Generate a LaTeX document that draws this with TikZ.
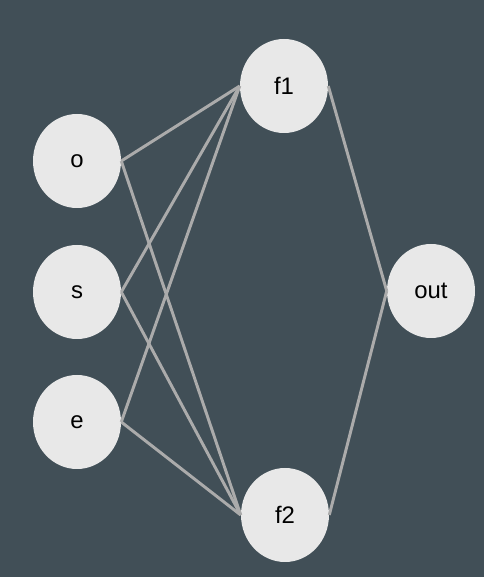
\documentclass[tikz,border=0pt]{standalone}
\usepackage{fontspec}
\setmainfont{Liberation Sans}
\usepackage{tikz}
\usetikzlibrary{shapes.geometric}
\usepackage{xcolor}
\definecolor{slate}{HTML}{414F57}
\definecolor{nodegray}{HTML}{E8E8E8}
\definecolor{edgegray}{HTML}{ABABAB}

\begin{document}
\begin{tikzpicture}[
    unit/.style={ellipse,fill=nodegray,draw=none,minimum width=2.2cm,minimum height=2.35cm,inner sep=0pt,
      font=\fontsize{17}{20}\selectfont},
    link/.style={draw=edgegray,line width=2.1pt}]
    \fill[slate] (0,0) rectangle (12.1,14.425);
    \useasboundingbox (0,0) rectangle (12.1,14.425);
    %% inputs
    \node[unit] (o) at (1.925,10.4) {o};
    \node[unit] (s) at (1.925,7.125) {s};
    \node[unit] (e) at (1.925,3.875) {e};
    %% hidden
    \node[unit] (f1) at (7.1,12.275) {f1};
    \node[unit] (f2) at (7.125,1.55) {f2};
    %% output
    \node[unit] (out) at (10.775,7.15) {out};
    %%
    \draw[link] (o.east) -- (f1.west); \draw[link] (o.east) -- (f2.west);
    \draw[link] (s.east) -- (f1.west); \draw[link] (s.east) -- (f2.west);
    \draw[link] (e.east) -- (f1.west); \draw[link] (e.east) -- (f2.west);
    \draw[link] (f1.east) -- (out.west); \draw[link] (f2.east) -- (out.west);
  \end{tikzpicture}
\end{document}
